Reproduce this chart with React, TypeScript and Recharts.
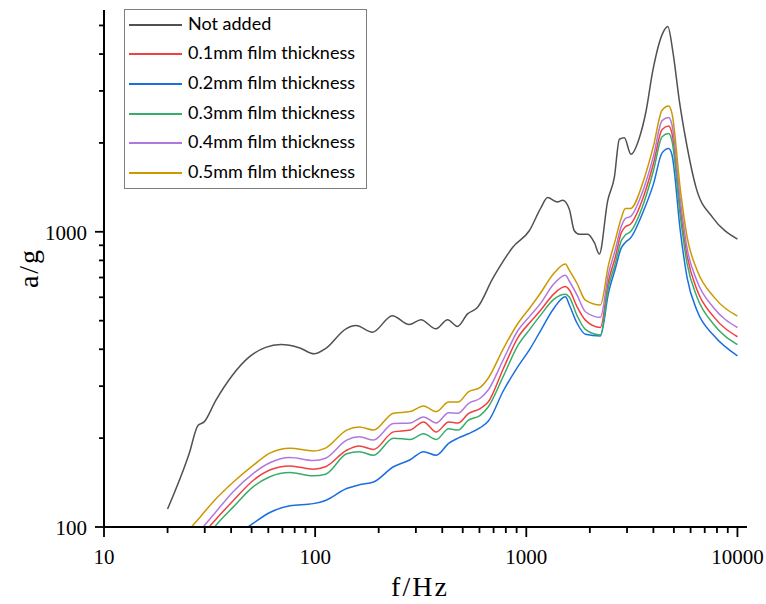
import { Label, Line, LineChart, XAxis, YAxis } from "recharts";

// "Not added" curve
const blackFreq = [
  20, 25.3, 27.9, 29.8, 33.8, 40.5, 48.6, 58.3, 68.7, 84, 98.9, 112, 140, 156,
  187, 232, 279, 317, 373, 424, 472, 527, 588, 692, 745, 861, 1033, 1174, 1262,
  1406, 1486, 1599, 1688, 1782, 1953, 2100, 2218, 2429, 2612, 2760, 2913, 3131,
  3433, 3693, 3970, 4429, 4680, 4945, 5310, 5710, 6370, 7640, 10000,
];
const notAdded = [
  115, 177, 221, 227, 268, 326, 376, 406, 415, 405, 386, 402, 469, 481, 457,
  520, 485, 504, 469, 504, 478, 527, 555, 692, 757, 885, 1008, 1208, 1306, 1262,
  1279, 1193, 1008, 981, 981, 920, 841, 1273, 1528, 2058, 2083, 1830, 2083,
  2565, 3500, 4710, 4960, 4080, 2770, 2030, 1411, 1117, 944,
];

// film thickness curves share one frequency grid
const filmFreq = [
  25, 28.5, 33, 41, 51, 61, 76, 98, 112, 141, 162, 189, 235, 282, 326, 375, 429,
  475, 532, 605, 660, 780, 914, 1045, 1164, 1349, 1531, 1600, 1740, 1905, 2244,
  2450, 2640, 2814, 2945, 3110, 3597, 4000, 4397, 4725, 4900, 5370, 5775, 6440,
  7730, 10000,
];
const film01 = [
  80, 92, 104, 123, 144, 156, 161, 157, 160, 182, 188, 183, 210, 213, 227, 210,
  227, 225, 242, 252, 265, 345, 439, 495, 540, 615, 652, 635, 557, 502, 474,
  680, 820, 990, 1040, 1060, 1320, 1700, 2220, 2280, 2150, 1190, 830, 635, 515,
  441,
];
const film02 = [
  null, null, null, 92, 103, 112, 118, 120, 123, 135, 139, 142, 160, 169, 180,
  175, 192, 200, 207, 217, 228, 290, 350, 403, 460, 550, 602, 565, 490, 450,
  444, 620, 750, 880, 920, 950, 1180, 1450, 1850, 1915, 1820, 1000, 700, 540,
  445, 380,
];
const film03 = [
  75, 85, 99, 117, 137, 148, 153, 149, 151, 177, 180, 175, 200, 198, 207, 198,
  215, 213, 230, 239, 255, 325, 413, 470, 520, 590, 614, 600, 520, 467, 447,
  650, 780, 930, 975, 1000, 1250, 1610, 2100, 2153, 2030, 1120, 780, 600, 485,
  415,
];
const film04 = [
  86, 97, 110, 132, 152, 165, 172, 168, 171, 197, 202, 197, 224, 225, 236, 225,
  244, 243, 262, 273, 291, 370, 464, 520, 570, 665, 713, 680, 610, 536, 513,
  720, 870, 1040, 1109, 1125, 1400, 1800, 2380, 2437, 2300, 1270, 880, 680, 552,
  474,
];
const film05 = [
  97, 108, 122, 142, 162, 178, 185, 181, 185, 213, 218, 213, 243, 246, 257, 246,
  265, 265, 287, 297, 319, 403, 490, 555, 618, 722, 778, 740, 668, 587, 565,
  771, 937, 1109, 1199, 1199, 1495, 1950, 2582, 2665, 2512, 1384, 961, 741, 602,
  518,
];

const xTicks = [
  10, 20, 30, 40, 50, 60, 70, 80, 90, 100, 200, 300, 400, 500, 600, 700, 800,
  900, 1000, 2000, 3000, 4000, 5000, 6000, 7000, 8000, 9000, 10000,
];
const yTicks = [
  100, 200, 300, 400, 500, 600, 700, 800, 900, 1000, 2000, 3000, 4000, 5000,
];
const xMajor = [10, 100, 1000, 10000];
const yMajor = [100, 1000];

const blackData = blackFreq.map((f, i) => ({ f, v: notAdded[i] }));
const filmData = filmFreq.map((f, i) => ({
  f,
  t01: film01[i],
  t02: film02[i],
  t03: film03[i],
  t04: film04[i],
  t05: film05[i],
}));

const series = [
  { key: "t01", name: "0.1mm film thickness", color: "#F14040" },
  { key: "t02", name: "0.2mm film thickness", color: "#1A6FDF" },
  { key: "t03", name: "0.3mm film thickness", color: "#37AD6B" },
  { key: "t04", name: "0.4mm film thickness", color: "#B177DE" },
  { key: "t05", name: "0.5mm film thickness", color: "#CC9900" },
];

const serif = "'Liberation Serif', serif";

// tick marks drawn as thin filled rects, majors longer and labelled
const XTick = ({ x, y, payload }: any) => {
  const major = xMajor.includes(payload.value);
  return (
    <g>
      <rect x={x - 0.9} y={y} width={1.8} height={major ? 10 : 6} fill="#000" />
      {major && (
        <text x={x} y={y + 37} textAnchor="middle" fontFamily={serif} fontSize={21} fill="#000">
          {payload.value}
        </text>
      )}
    </g>
  );
};

const YTick = ({ x, y, payload }: any) => {
  const major = yMajor.includes(payload.value);
  const len = major ? 9 : 5;
  return (
    <g>
      <rect x={x - len} y={y - 0.9} width={len} height={1.8} fill="#000" />
      {major && (
        <text x={x - 17} y={y + 8} textAnchor="end" fontFamily={serif} fontSize={21} fill="#000">
          {payload.value}
        </text>
      )}
    </g>
  );
};

const legendItems = [{ name: "Not added", color: "#515151" }, ...series];

const App = () => {
  return (
    <div style={{ position: "absolute", left: 0, top: 0, width: 766, height: 604, background: "#fff" }}>
      <LineChart
        width={766}
        height={604}
        margin={{ top: 10, right: 19, bottom: 0, left: 0 }}
      >
        <XAxis
          dataKey="f"
          type="number"
          scale="log"
          domain={[10, 11100]}
          allowDataOverflow
          ticks={xTicks}
          interval={0}
          tick={<XTick />}
          tickSize={0}
          tickMargin={0}
          tickLine={false}
          height={77}
          axisLine={{ stroke: "#000", strokeWidth: 2 }}
        >
          <Label
            content={() => (
              <text x={420} y={596} textAnchor="middle" fontFamily={serif} fontSize={28} letterSpacing={2} fill="#000">
                f/Hz
              </text>
            )}
          />
        </XAxis>
        <YAxis
          type="number"
          scale="log"
          domain={[100, 5640]}
          allowDataOverflow
          ticks={yTicks}
          interval={0}
          tick={<YTick />}
          tickSize={0}
          tickMargin={0}
          tickLine={false}
          width={104}
          axisLine={{ stroke: "#000", strokeWidth: 2 }}
        >
          <Label
            content={() => (
              <text
                x={38}
                y={268}
                transform="rotate(-90 38 268)"
                textAnchor="middle"
                fontFamily={serif}
                fontSize={28}
                letterSpacing={2}
                fill="#000"
              >
                a/g
              </text>
            )}
          />
        </YAxis>
        <Line
          data={blackData}
          dataKey="v"
          name="Not added"
          type="monotone"
          stroke="#515151"
          strokeWidth={1.5}
          dot={false}
          isAnimationActive={false}
        />
        {series.map((s) => (
          <Line
            key={s.key}
            data={filmData}
            dataKey={s.key}
            name={s.name}
            type="monotone"
            stroke={s.color}
            strokeWidth={1.5}
            dot={false}
            isAnimationActive={false}
          />
        ))}
      </LineChart>
      <div
        style={{
          position: "absolute",
          left: 124,
          top: 9,
          width: 241,
          border: "1px solid #7f7f7f",
          background: "#fff",
          fontFamily: "Lato, sans-serif",
          fontSize: 18,
          lineHeight: "20px",
          color: "#000",
        }}
      >
        {legendItems.map((it) => (
          <div key={it.name} style={{ height: 29.6, display: "flex", alignItems: "center" }}>
            <div style={{ width: 53, height: 2, background: it.color, marginLeft: 4, marginRight: 6, flex: "none" }} />
            <span style={{ position: "relative", top: -2 }}>{it.name}</span>
          </div>
        ))}
      </div>
    </div>
  );
};

export default App;
